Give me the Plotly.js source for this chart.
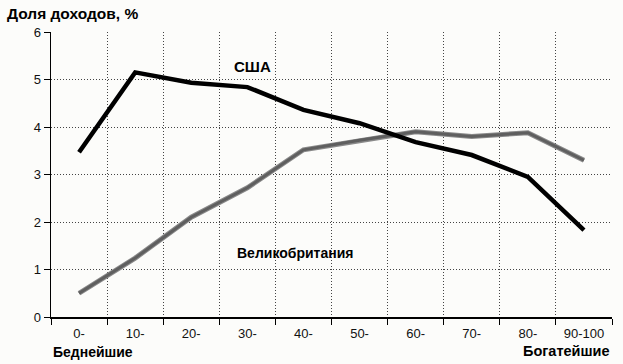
<!DOCTYPE html>
<html>
<head>
<meta charset="utf-8">
<script src="https://cdn.plot.ly/plotly-3.0.1.min.js"></script>
<style>
html,body{margin:0;padding:0;background:#fcfcfa;}
#chart{width:623px;height:364px;}
</style>
</head>
<body>
<div id="chart"></div>
<script>
var categories = ["0-", "10-", "20-", "30-", "40-", "50-", "60-", "70-", "80-", "90-100"];
var usaValues = [3.47, 5.15, 4.93, 4.84, 4.36, 4.08, 3.68, 3.41, 2.95, 1.83];
var ukValues = [0.5, 1.24, 2.1, 2.72, 3.52, 3.72, 3.9, 3.8, 3.88, 3.3];
var yTicks = [0, 1, 2, 3, 4, 5, 6];

var FONT = '"Liberation Sans Narrow", "Arial Narrow", "Liberation Sans", Arial, sans-serif';

var traces = [
  {x: categories, y: ukValues, type: 'scatter', mode: 'lines',
   line: {color: '#8a8a8a', width: 5}, hoverinfo: 'skip', showlegend: false},
  {x: categories, y: ukValues, type: 'scatter', mode: 'lines', name: 'Великобритания',
   line: {color: '#5f5f5f', width: 3}, showlegend: false},
  {x: categories, y: usaValues, type: 'scatter', mode: 'lines', name: 'США',
   line: {color: '#000000', width: 4.5}, showlegend: false}
];

var layout = {
  width: 623, height: 364,
  margin: {l: 51, r: 11, t: 32, b: 47},
  paper_bgcolor: '#fcfcfa', plot_bgcolor: '#fcfcfa',
  font: {family: FONT, size: 13, color: '#111'},
  xaxis: {
    type: 'category', range: [-0.5, 9.5], tickson: 'boundaries',
    ticks: 'outside', ticklen: 6, tickcolor: '#000', tickwidth: 1,
    showline: true, linecolor: '#000', linewidth: 1.5,
    showgrid: true, gridcolor: '#444', griddash: '1px,2px', gridwidth: 1,
    ticklabelstandoff: 4,
    tickfont: {family: FONT, size: 13, color: '#111'}, fixedrange: true
  },
  yaxis: {
    range: [0, 6], tickvals: yTicks, ticktext: yTicks.map(String),
    ticks: 'outside', ticklen: 6, tickcolor: '#000', tickwidth: 1,
    showline: true, linecolor: '#000', linewidth: 1.5,
    showgrid: true, gridcolor: '#444', griddash: '1px,2px', gridwidth: 1,
    zeroline: false, tickfont: {family: FONT, size: 13, color: '#111'}, fixedrange: true
  },
  annotations: [
    {text: '<b>Доля доходов, %</b>', xref: 'paper', yref: 'paper', x: -0.082, y: 1.065,
     xanchor: 'left', yanchor: 'middle', showarrow: false, font: {family: FONT, size: 15.5, color: '#000'}},
    {text: '<b>США</b>', xref: 'paper', yref: 'paper', x: 0.36, y: 0.88,
     xanchor: 'center', yanchor: 'middle', showarrow: false, font: {family: FONT, size: 15, color: '#000'}},
    {text: '<b>Великобритания</b>', xref: 'paper', yref: 'paper', x: 0.435, y: 0.224,
     xanchor: 'center', yanchor: 'middle', showarrow: false, font: {family: FONT, size: 14, color: '#000'}},
    {text: '<b>Беднейшие</b>', xref: 'paper', yref: 'paper', x: 0.0, y: -0.122,
     xanchor: 'left', yanchor: 'middle', showarrow: false, font: {family: FONT, size: 14, color: '#000'}},
    {text: '<b>Богатейшие</b>', xref: 'paper', yref: 'paper', x: 1.0, y: -0.12,
     xanchor: 'right', yanchor: 'middle', showarrow: false, font: {family: FONT, size: 14.5, color: '#000'}}
  ]
};

Plotly.newPlot('chart', traces, layout, {staticPlot: true, displayModeBar: false});
</script>
</body>
</html>
